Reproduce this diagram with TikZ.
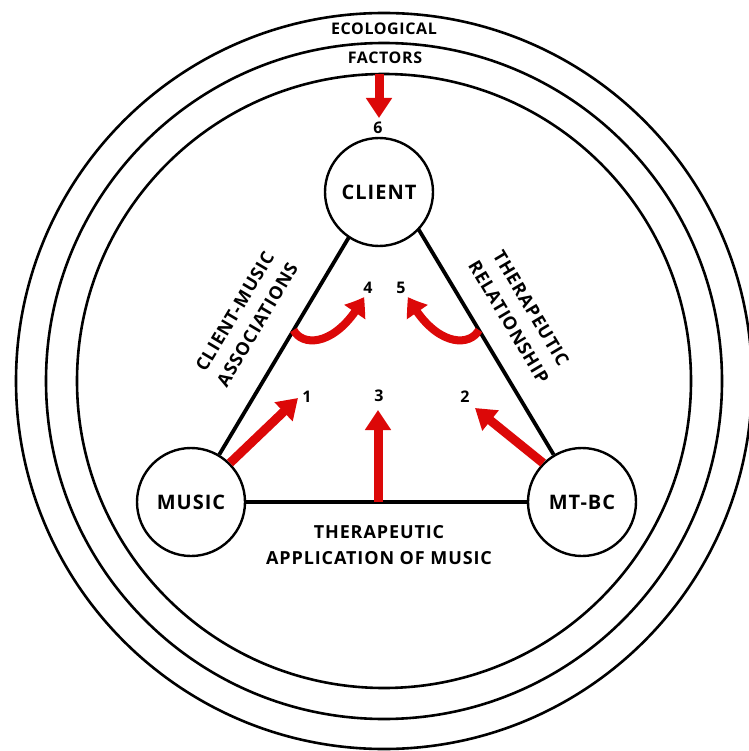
\documentclass[tikz,border=0pt]{standalone}
\usepackage{fontspec}
\setmainfont{Open Sans}
\usetikzlibrary{arrows.meta,calc,bending}
\definecolor{arrowred}{RGB}{220,8,8}
\pgfdeclarelayer{back}
\pgfsetlayers{back,main}
\begin{document}
\begin{tikzpicture}[x=1pt,y=-1pt,
  ring/.style={circle,draw,line width=2.6pt,inner sep=0pt},
  cnode/.style={circle,draw,line width=2.4pt,fill=white,inner sep=0pt,minimum size=108pt,font=\bfseries\fontsize{20}{24}\selectfont\addfontfeature{LetterSpace=5}},
  lab/.style={inner sep=0pt,font=\bfseries\fontsize{16}{20}\selectfont\addfontfeature{LetterSpace=4}},
  sidelab/.style={inner sep=0pt,align=center,font=\bfseries\fontsize{18}{26}\selectfont\addfontfeature{LetterSpace=5}},
  num/.style={inner sep=0pt,font=\bfseries\fontsize{16}{20}\selectfont},
  tri/.style={line width=3.8pt},
  redarrow/.style={draw=arrowred,line width=9pt,-{Triangle[width=25pt,length=20pt]}},
  credarrow/.style={draw=arrowred,line width=8pt,-{Triangle[width=24pt,length=18pt,bend]}}
]
\useasboundingbox (0,0) rectangle (748,751);
\begin{pgfonlayer}{back}
\fill[white] (0,0) rectangle (748,751);
\end{pgfonlayer}
% rings
\node[ring,minimum size=736pt] (outer) at (384,381) {};
\node[ring,minimum size=676pt] (middle) at (384,381) {};
\node[ring,minimum size=614pt] (inner) at (384,381) {};
\node[lab] (eco) at (384,29) {ECOLOGICAL};
\node[lab] (fac) at (385,58) {FACTORS};
% nodes
\node[cnode] (client) at (379,192) {CLIENT};
\node[cnode] (music) at (191,502) {MUSIC};
\node[cnode] (mtbc) at (582,502) {MT-BC};
\coordinate (apex) at (386,175);
\begin{pgfonlayer}{back}
\draw[tri] (music) -- (apex);
\draw[tri] (mtbc) -- (apex);
\end{pgfonlayer}
\draw[tri] (music) -- (mtbc);
% side labels
\node[sidelab,rotate=59.2] (cma) at (246,318) {CLIENT-MUSIC\\ASSOCIATIONS};
\node[sidelab,rotate=-59.2] (trel) at (520,315) {THERAPEUTIC\\RELATIONSHIP};
\node[sidelab] (tapp) at (379,545) {THERAPEUTIC\\APPLICATION OF MUSIC};
% arrows
\coordinate (t1) at (298,398);
\coordinate (t2) at (475,408);
\coordinate (b3) at (378,502);
\coordinate (t3) at (378,410);
\coordinate (s6) at (379,74);
\coordinate (t6) at (379,118);
\draw[redarrow] (music.45) -- (t1);
\draw[redarrow] (mtbc.135) -- (t2);
\draw[redarrow] (b3) -- (t3);
\draw[redarrow] (s6) -- (t6);
\coordinate (s4) at ($(music.center)!0.526!(apex)$);
\coordinate (s5) at ($(mtbc.center)!0.526!(apex)$);
\coordinate (t4) at (364,297);
\coordinate (t5) at (408,297);
\draw[credarrow] (s4) .. controls (303,348) and (338,346) .. (t4);
\draw[credarrow] (s5) .. controls (469,348) and (434,346) .. (t5);
% numbers
\node[num] (n1) at (307,397) {1};
\node[num] (n2) at (465,397) {2};
\node[num] (n3) at (379,396) {3};
\node[num] (n4) at (368,288) {4};
\node[num] (n5) at (401,288) {5};
\node[num] (n6) at (378,128) {6};
\end{tikzpicture}
\end{document}
